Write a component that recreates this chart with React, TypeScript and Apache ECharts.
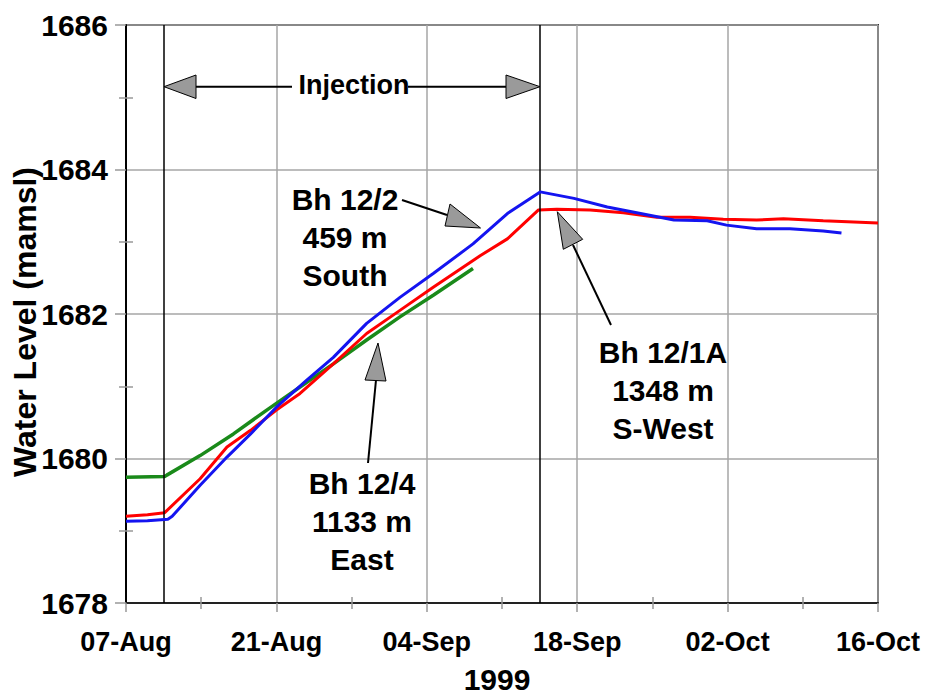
import React, { useEffect, useRef } from "react";
import * as echarts from "echarts";

// X axis: days since 07-Aug-1999
const xTickLabels = ["07-Aug", "21-Aug", "04-Sep", "18-Sep", "02-Oct", "16-Oct"];
const yTickValues = [1678, 1680, 1682, 1684, 1686];

// Bh 12/2 (blue) – 459 m South
const bh122Days = [0, 2, 3.9, 4.3, 6.9, 9.4, 11.6, 14.0, 16.8, 19.3, 22.4, 25.5, 28.6, 32.3, 35.5, 38.55, 41.7, 44.8, 47.9, 51.0, 54.1, 55.9, 58.7, 61.8, 64.9, 66.6];
const bh122Levels = [1679.13, 1679.14, 1679.16, 1679.2, 1679.63, 1680.02, 1680.34, 1680.71, 1681.08, 1681.4, 1681.87, 1682.23, 1682.56, 1682.97, 1683.39, 1683.69, 1683.6, 1683.48, 1683.39, 1683.3, 1683.29, 1683.23, 1683.18, 1683.18, 1683.15, 1683.12];

// Bh 12/1A (red) – 1348 m S-West
const bh121aDays = [0, 2, 3.6, 6.9, 9.4, 11.6, 14.0, 16.2, 19.3, 22.4, 25.5, 28.6, 33.0, 35.5, 38.4, 40.1, 43.2, 46.3, 49.4, 52.5, 55.6, 58.7, 61.2, 64.9, 70];
const bh121aLevels = [1679.2, 1679.22, 1679.25, 1679.72, 1680.16, 1680.39, 1680.67, 1680.9, 1681.31, 1681.73, 1682.05, 1682.37, 1682.81, 1683.04, 1683.44, 1683.45, 1683.44, 1683.4, 1683.34, 1683.34, 1683.31, 1683.3, 1683.32, 1683.29, 1683.26];

// Bh 12/4 (green) – 1133 m East
const bh124Days = [0, 3.6, 3.8, 6.9, 10.0, 13.1, 16.2, 19.3, 22.4, 25.5, 28.6, 32.3];
const bh124Levels = [1679.74, 1679.75, 1679.77, 1680.04, 1680.34, 1680.67, 1680.99, 1681.31, 1681.64, 1681.96, 1682.26, 1682.63];

// Injection period (days since 07-Aug)
const injectionDays = [3.55, 38.55];

const FONT = '"Liberation Sans", Arial, Helvetica, sans-serif';

function zip(xs: number[], ys: number[]) {
  return xs.map((x, i) => [x, ys[i]]);
}

const gridCol = "#a6a6a6";
const tickCol = "#999999";

function tri(points: number[][]) {
  return {
    type: "polygon",
    shape: { points },
    style: { fill: "#9a9a9a", stroke: "#000", lineWidth: 1 },
    z: 100,
  };
}
function seg(x1: number, y1: number, x2: number, y2: number) {
  return {
    type: "line",
    shape: { x1, y1, x2, y2 },
    style: { stroke: "#000", lineWidth: 2 },
    z: 100,
  };
}
function txt(text: string, x: number, y: number, size: number, extra: any = {}, lineHeight = 38) {
  return {
    type: "text",
    x,
    y,
    z: 100,
    ...extra,
    style: {
      text,
      fontSize: size,
      fontWeight: "bold",
      fontFamily: FONT,
      fill: "#000",
      align: "center",
      verticalAlign: "middle",
      lineHeight,
    },
  };
}

export default function App() {
  const ref = useRef<HTMLDivElement>(null);
  useEffect(() => {
    const chart = echarts.init(ref.current!, null, { renderer: "svg" });
    const option: any = {
      animation: false,
      backgroundColor: "#fff",
      grid: {
        left: 126,
        right: 48,
        top: 25,
        bottom: 91,
        show: true,
        borderColor: "#333",
        borderWidth: 2,
        backgroundColor: "transparent",
      },
      xAxis: [
        {
          type: "value",
          min: 0,
          max: 70,
          interval: 14,
          position: "bottom",
          axisLine: { show: true, onZero: false, lineStyle: { color: "#222", width: 2 } },
          axisTick: { show: true, length: 9, lineStyle: { color: tickCol, width: 1.5 } },
          minorTick: { show: true, splitNumber: 2, length: 6, lineStyle: { color: tickCol, width: 1.5 } },
          splitLine: { show: true, lineStyle: { color: gridCol, width: 1.5 } },
          axisLabel: {
            margin: 25,
            fontSize: 27,
            fontWeight: "bold",
            fontFamily: FONT,
            color: "#000",
            formatter: (v: number) => xTickLabels[Math.round(v / 14)] ?? "",
          },
        },
        {
          type: "value",
          min: 0,
          max: 70,
          interval: 14,
          position: "bottom",
          axisLine: { show: false, onZero: false },
          axisTick: { show: false, inside: true },
          minorTick: { show: true, splitNumber: 2, length: 6, lineStyle: { color: tickCol, width: 1.5 } },
          splitLine: { show: false },
          axisLabel: { show: false },
        },
      ],
      yAxis: [
        {
          type: "value",
          min: 1678,
          max: 1686,
          interval: 2,
          position: "left",
          axisLine: { show: true, onZero: false, lineStyle: { color: "#000", width: 2 } },
          axisTick: { show: true, length: 11, lineStyle: { color: tickCol, width: 1.5 } },
          minorTick: { show: true, splitNumber: 2, length: 7, lineStyle: { color: tickCol, width: 1.5 } },
          splitLine: { show: true, lineStyle: { color: gridCol, width: 1.5 } },
          axisLabel: {
            margin: 18,
            fontSize: 30,
            fontWeight: "bold",
            fontFamily: FONT,
            color: "#000",
            formatter: (v: number) => (yTickValues.includes(v) ? String(v) : ""),
          },
        },
        {
          type: "value",
          min: 1678,
          max: 1686,
          interval: 2,
          position: "left",
          axisLine: { show: false, onZero: false },
          axisTick: { show: false, inside: true },
          minorTick: { show: true, splitNumber: 2, length: 7, lineStyle: { color: tickCol, width: 1.5 } },
          splitLine: { show: false },
          axisLabel: { show: false },
        },
      ],
      series: [
        {
          name: "Bh 12/4",
          type: "line",
          data: zip(bh124Days, bh124Levels),
          showSymbol: false,
          lineStyle: { color: "#1a8a1a", width: 3.5 },
          itemStyle: { color: "#1a8a1a" },
          z: 3,
        },
        {
          name: "Bh 12/1A",
          type: "line",
          data: zip(bh121aDays, bh121aLevels),
          showSymbol: false,
          lineStyle: { color: "#ff0000", width: 3 },
          itemStyle: { color: "#ff0000" },
          z: 4,
        },
        {
          name: "Bh 12/2",
          type: "line",
          data: zip(bh122Days, bh122Levels),
          showSymbol: false,
          lineStyle: { color: "#1414f0", width: 3 },
          itemStyle: { color: "#1414f0" },
          z: 5,
          markLine: {
            silent: true,
            symbol: "none",
            label: { show: false },
            lineStyle: { color: "#000", width: 1.5, type: "solid" },
            data: injectionDays.map((d) => ({ xAxis: d })),
          },
        },
      ],
      graphic: [
        // axis titles
        txt("Water Level (mamsl)", 25, 322, 32, { rotation: Math.PI / 2 }, 34),
        txt("1999", 497, 679, 30, {}, 30),
        // Injection
        seg(196, 86.7, 292, 86.7),
        seg(408, 86.7, 506, 86.7),
        tri([[164, 86.7], [196, 75], [196, 98.5]]),
        tri([[540, 86.7], [506, 75], [506, 98.5]]),
        txt("Injection", 354, 85, 27, {}, 30),
        // Bh 12/2
        txt("Bh 12/2\n459 m\nSouth", 345, 237, 30),
        seg(402, 200, 447, 215),
        tri([[480.5, 228], [450, 204], [445, 226]]),
        // Bh 12/4
        txt("Bh 12/4\n1133 m\nEast", 362, 521, 30),
        seg(368, 463, 376, 380),
        tri([[378, 343], [365, 380], [386, 381]]),
        // Bh 12/1A
        txt("Bh 12/1A\n1348 m\nS-West", 663, 390, 30),
        seg(611, 325, 573, 245),
        tri([[557.3, 211.7], [563.3, 249.3], [582.7, 239.3]]),
      ],
    };
    chart.setOption(option);
    return () => chart.dispose();
  }, []);
  return (
    <div
      ref={ref}
      style={{ position: "absolute", left: 0, top: 0, width: 926, height: 694 }}
    />
  );
}
